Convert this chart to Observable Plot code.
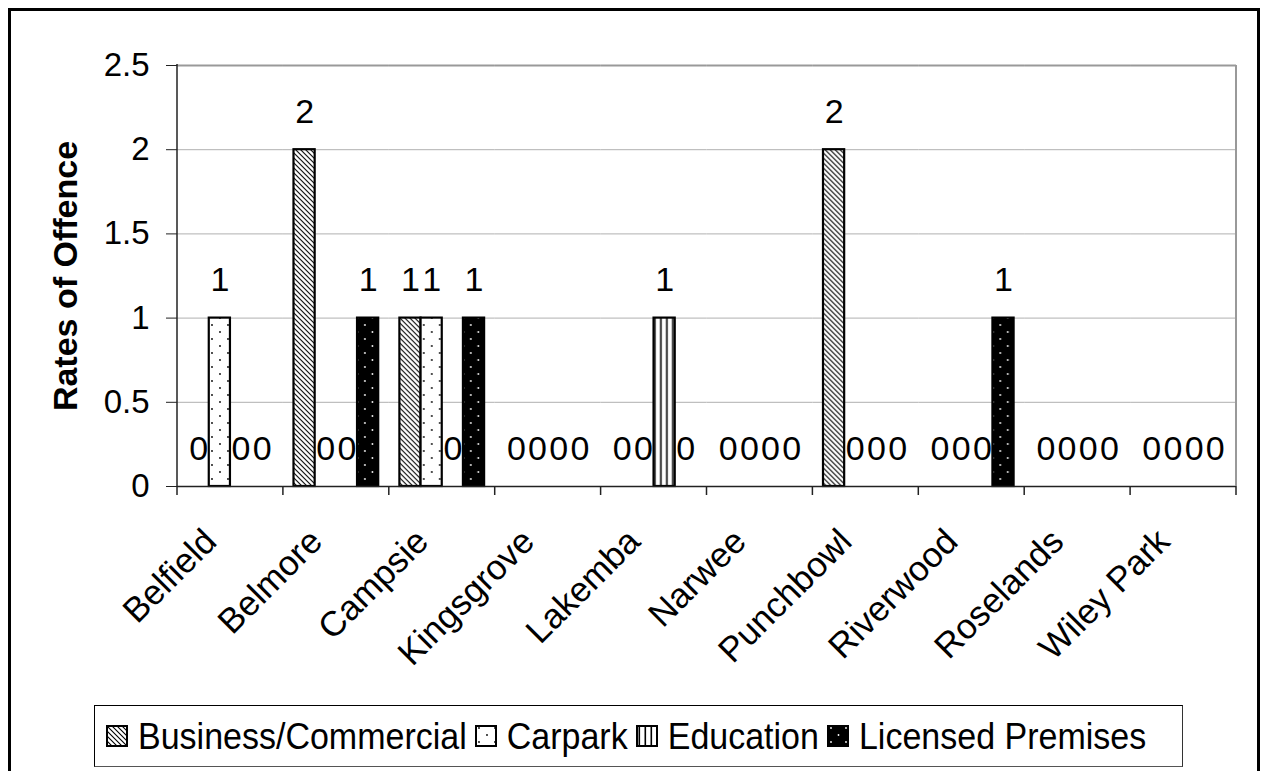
<!DOCTYPE html>
<html><head><meta charset="utf-8">
<script src="https://cdn.jsdelivr.net/npm/d3@7"></script>
<script src="https://cdn.jsdelivr.net/npm/@observablehq/plot@0.6"></script>
<style>
body{margin:0;background:#fff;font-family:"Liberation Sans",Arial,sans-serif;}
#wrap{position:relative;width:1262px;height:771px;overflow:hidden;background:#fff;}
#chart{position:absolute;left:0;top:0;}
#outer{position:absolute;left:8px;top:8px;width:1246px;height:800px;border:3px solid #000;pointer-events:none;}
#legend{position:absolute;left:94px;top:705px;width:1076px;height:60px;border:1px solid #000;border-bottom-color:#555;border-right-color:#333;display:flex;align-items:center;padding-left:11px;box-sizing:content-box;font-size:34px;color:#000;white-space:nowrap;}
#legend .item{display:flex;align-items:center;margin-right:8px;}
#legend svg{margin-right:10px;}
#legend span{display:inline-block;transform:scaleY(1.06);}
</style>
</head><body>
<div id="wrap"><div id="chart"></div><div id="outer"></div><div id="legend"></div></div>
<script>
const categories = ["Belfield","Belmore","Campsie","Kingsgrove","Lakemba","Narwee","Punchbowl","Riverwood","Roselands","Wiley Park"];
const types = ["Business/Commercial","Carpark","Education","Licensed Premises"];
const business  = [0,2,1,0,0,0,2,0,0,0];
const carpark   = [1,0,1,0,0,0,0,0,0,0];
const education = [0,0,0,0,1,0,0,0,0,0];
const licensed  = [0,1,1,0,0,0,0,1,0,0];
const yTicks = [0,0.5,1,1.5,2,2.5];
const yTitle = "Rates of Offence";

const seriesValues = [business, carpark, education, licensed];
const patternIds = ["patBiz","patCar","patEdu","patLic"];
const rows = categories.flatMap((c,i)=>types.map((t,j)=>({cat:c,type:t,value:seriesValues[j][i]})));

const FONT = "'Liberation Sans', Arial, sans-serif";
const chart = Plot.plot({
  width:1262, height:771,
  marginLeft:177, marginRight:26, marginTop:65, marginBottom:285,
  style:{fontFamily:FONT, background:"transparent", color:"#000", overflow:"visible"},
  fx:{domain:categories, padding:0, round:false, axis:null, label:null},
  x:{domain:types, paddingInner:0, paddingOuter:0.5, round:false, axis:null},
  y:{domain:[0,2.5], axis:null},
  marks:[
    Plot.gridY(yTicks, {stroke:"#b0b0b0", strokeOpacity:1, strokeWidth:1}),
    Plot.ruleY([2.5], {stroke:"#999", strokeWidth:2}),
    ...types.map((t,j)=>Plot.barY(rows.filter(d=>d.type===t && d.value>0), {
      fx:"cat", x:"type", y:"value", fill:`url(#${patternIds[j]})`, stroke:"#000", strokeWidth:2.2
    })),
    Plot.text(rows, {fx:"cat", x:"type", y:"value", text:d=>String(d.value), dy:-27, lineAnchor:"bottom", fontSize:34, fill:"#000"}),
    Plot.ruleY([0], {stroke:"#222", strokeWidth:1.5}),
    Plot.axisY(yTicks, {tickSize:11, tickPadding:17, fontSize:33, label:null, tickFormat:d=>String(d), stroke:"#222"}),
    Plot.text(categories, {fx:d=>d, frameAnchor:"bottom", text:d=>d, rotate:-45, textAnchor:"end", lineAnchor:"bottom", dx:-12, dy:57, fontSize:35, fill:"#000"}),
    Plot.text([yTitle], {fx:()=>categories[0], frameAnchor:"left", text:d=>d, rotate:-90, textAnchor:"middle", lineAnchor:"middle", dx:-111, fontSize:34, fontWeight:"bold", fill:"#000"})
  ]
});
document.getElementById("chart").appendChild(chart);

const svg = d3.select(chart);
const defs = svg.insert("defs", ":first-child");
// Business: diagonal hatch
let p = defs.append("pattern").attr("id","patBiz").attr("patternUnits","userSpaceOnUse").attr("width",5).attr("height",5);
p.append("rect").attr("width",5).attr("height",5).attr("fill","#fff");
p.append("path").attr("d","M0,0L5,5M-1,4L1,6M4,-1L6,1").attr("stroke","#000").attr("stroke-width",1.1);
// Carpark: sparse dots on white
p = defs.append("pattern").attr("id","patCar").attr("patternUnits","userSpaceOnUse").attr("width",16).attr("height",14);
p.append("rect").attr("width",16).attr("height",14).attr("fill","#fff");
p.append("circle").attr("cx",4).attr("cy",3).attr("r",0.9).attr("fill","#000");
p.append("circle").attr("cx",12).attr("cy",10).attr("r",0.9).attr("fill","#000");
// Education: vertical lines
p = defs.append("pattern").attr("id","patEdu").attr("patternUnits","userSpaceOnUse").attr("width",6).attr("height",6);
p.append("rect").attr("width",6).attr("height",6).attr("fill","#fff");
p.append("rect").attr("x",2.5).attr("width",1.6).attr("height",6).attr("fill","#000");
// Licensed: black with white dots
p = defs.append("pattern").attr("id","patLic").attr("patternUnits","userSpaceOnUse").attr("width",15).attr("height",14);
p.append("rect").attr("width",15).attr("height",14).attr("fill","#000");
p.append("circle").attr("cx",4).attr("cy",3).attr("r",0.9).attr("fill","#fff");
p.append("circle").attr("cx",11.5).attr("cy",10).attr("r",0.9).attr("fill","#fff");

// structural lines from the scales
const fx = chart.scale("fx"), y = chart.scale("y");
const y0 = y.apply(0), yTop = y.apply(2.5);
const xs = categories.map(c=>fx.apply(c));
const xRight = xs[xs.length-1] + fx.bandwidth;
const g = svg.append("g");
g.append("line").attr("x1",xRight).attr("x2",xRight).attr("y1",yTop).attr("y2",y0).attr("stroke","#999").attr("stroke-width",2);
g.append("line").attr("x1",xs[0]).attr("x2",xs[0]).attr("y1",yTop-1).attr("y2",y0).attr("stroke","#222").attr("stroke-width",1.5);
[...xs, xRight].forEach(x=>g.append("line").attr("x1",x).attr("x2",x).attr("y1",y0).attr("y2",y0+9).attr("stroke","#222").attr("stroke-width",1.5));

// legend
const leg = d3.select("#legend");
types.forEach((t,j)=>{
  const it = leg.append("div").attr("class","item");
  const s = it.append("svg").attr("width",22).attr("height",22);
  s.append("rect").attr("x",1).attr("y",1).attr("width",20).attr("height",20).attr("fill",`url(#${patternIds[j]})`).attr("stroke","#000").attr("stroke-width",2);
  it.append("span").text(t);
});
</script>
</body></html>
